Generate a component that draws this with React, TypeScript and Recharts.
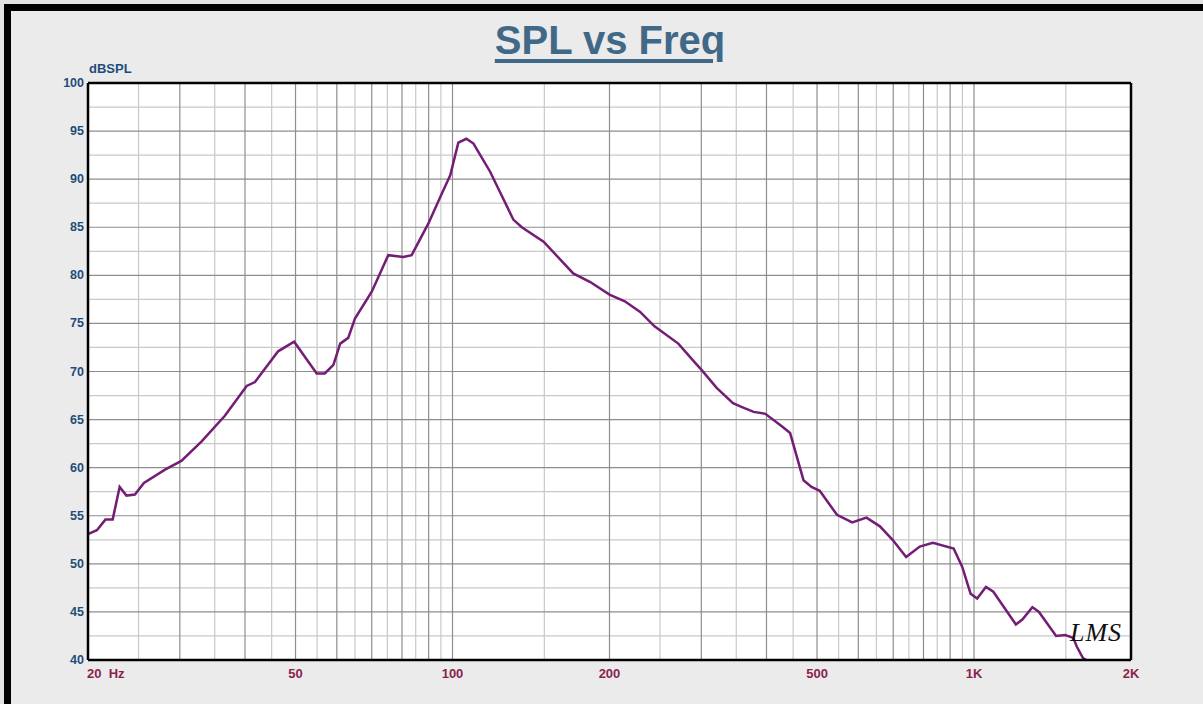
import React from 'react';
import { LineChart, Line, XAxis, YAxis, ReferenceLine, ReferenceArea } from 'recharts';

const freqHz = [
  20, 20.8, 21.6, 22.3, 23.0, 23.7, 24.6, 25.6, 28.1, 30.2, 33.0, 36.6, 40.3, 41.8, 46.3, 49.7,
  54.9, 56.9, 59.1, 60.9, 63.1, 65.0, 70.0, 72.6, 75.3, 80.5, 83.5, 89.9, 95.4, 99.0, 102.6, 106.3,
  109.7, 118, 130.8, 135.8, 149.5, 170.4, 183.7, 200, 214, 229, 244, 271, 292, 300, 321, 345, 359,
  378, 398, 428, 444, 471, 488, 506, 546, 584, 622, 660, 698, 741, 787, 834, 914, 949, 985, 1014,
  1054, 1089, 1203, 1238, 1294, 1332, 1437, 1496, 1550, 1574, 1618, 1700,
];
const splDb = [
  53.1, 53.5, 54.6, 54.6, 58.0, 57.1, 57.2, 58.4, 59.8, 60.7, 62.7, 65.4, 68.5, 68.9, 72.1, 73.1,
  69.8, 69.8, 70.7, 72.9, 73.5, 75.5, 78.3, 80.2, 82.1, 81.9, 82.1, 85.4, 88.5, 90.4, 93.8, 94.2,
  93.7, 90.8, 85.8, 85.0, 83.5, 80.2, 79.3, 78.0, 77.3, 76.2, 74.7, 72.9, 70.9, 70.2, 68.3, 66.7, 66.3,
  65.8, 65.6, 64.3, 63.6, 58.7, 58.0, 57.6, 55.1, 54.3, 54.8, 53.9, 52.5, 50.7, 51.8, 52.2, 51.6, 49.7, 46.9, 46.4,
  47.6, 47.1, 43.7, 44.2, 45.5, 45.0, 42.5, 42.6, 42.3, 41.4, 40.2, 39.5,
];

const xTicks = [20, 50, 100, 200, 500, 1000, 2000];
const xTickLabels = ['20  Hz', '50', '100', '200', '500', '1K', '2K'];
const yTicks = [40, 45, 50, 55, 60, 65, 70, 75, 80, 85, 90, 95, 100];

const gridFreqMajor = [30, 40, 50, 60, 70, 80, 90, 100, 200, 300, 400, 500, 600, 700, 800, 900, 1000];
const gridFreqMinor = [25, 35, 45, 55, 65, 75, 85, 95, 150, 250, 350, 450, 550, 650, 750, 850, 950, 1500];
const gridDbMajor = [45, 50, 55, 60, 65, 70, 75, 80, 85, 90, 95];
const gridDbMinor = [42.5, 47.5, 52.5, 57.5, 62.5, 67.5, 72.5, 77.5, 82.5, 87.5, 92.5, 97.5];

const data = freqHz.map((f, i) => ({ f, spl: splDb[i] }));

const FONT = 'Arial, "Liberation Sans", sans-serif';

const XTick = (props: any) => {
  const { x, y, payload } = props;
  const idx = xTicks.indexOf(payload.value);
  const first = idx === 0;
  return (
    <text x={first ? x - 1 : x} y={y + 18} textAnchor={first ? 'start' : 'middle'}
      fill="#8a1f4e" fontSize={13} fontWeight="bold" fontFamily={FONT} style={{ whiteSpace: 'pre' }}>
      {xTickLabels[idx]}
    </text>
  );
};

const YTick = (props: any) => {
  const { x, y, payload } = props;
  return (
    <text x={x - 4} y={y + 4} textAnchor="end" fill="#1f4d7a" fontSize={12.5}
      fontWeight="bold" fontFamily={FONT}>
      {payload.value}
    </text>
  );
};

export default function App() {
  return (
    <div style={{ position: 'absolute', left: 0, top: 0, width: 1203, height: 704, background: '#e2e2e2', overflow: 'hidden', fontFamily: FONT }}>
      <div style={{ position: 'absolute', left: 4, top: 4, width: 1300, height: 800, background: '#ebebeb', borderLeft: '7px solid #000', borderTop: '7px solid #000' }} />

      <div style={{ position: 'absolute', left: 0, top: 0 }}>
        <LineChart width={1203} height={704} data={data} margin={{ top: 83, right: 72, bottom: 14, left: 48 }}>
          <ReferenceArea x1={20} x2={2000} y1={40} y2={100} fill="#ffffff" fillOpacity={1} stroke="none" />
          {gridDbMinor.map((v) => (
            <ReferenceLine key={'hm' + v} y={v} stroke="#c9c9c9" strokeWidth={1.2} />
          ))}
          {gridFreqMinor.map((v) => (
            <ReferenceLine key={'vm' + v} x={v} stroke="#c9c9c9" strokeWidth={1.2} />
          ))}
          {gridDbMajor.map((v) => (
            <ReferenceLine key={'hM' + v} y={v} stroke="#8e8e8e" strokeWidth={1.2} />
          ))}
          {gridFreqMajor.map((v) => (
            <ReferenceLine key={'vM' + v} x={v} stroke="#8e8e8e" strokeWidth={1.2} />
          ))}
          <XAxis dataKey="f" type="number" scale="log" domain={[20, 2000]} ticks={xTicks}
            allowDataOverflow height={30} tickLine={false} tickSize={0} tickMargin={0}
            axisLine={{ stroke: '#000', strokeWidth: 2.5 }} tick={<XTick />} interval={0} />
          <YAxis type="number" domain={[40, 100]} ticks={yTicks} allowDataOverflow width={40}
            tickLine={false} tickSize={0} tickMargin={0}
            axisLine={{ stroke: '#000', strokeWidth: 2.5 }} tick={<YTick />} interval={0} />
          <ReferenceLine y={100} stroke="#000" strokeWidth={2.5} />
          <ReferenceLine x={2000} stroke="#000" strokeWidth={2.5} />
          <Line type="linear" dataKey="spl" stroke="#741d74" strokeWidth={2.5} dot={false}
            isAnimationActive={false} />
        </LineChart>
      </div>

      <div style={{ position: 'absolute', left: 89, top: 61, fontSize: 13, fontWeight: 'bold', color: '#1f4d7a' }}>
        dBSPL
      </div>
      <div style={{ position: 'absolute', left: 0, width: 1220, top: 18, textAlign: 'center', fontSize: 40, fontWeight: 'bold', color: '#3f6987', textDecoration: 'underline', textDecorationThickness: 4, textUnderlineOffset: 5 }}>
        SPL vs Freq
      </div>
      <div style={{ position: 'absolute', left: 1070, top: 618, fontSize: 26, fontStyle: 'italic', fontFamily: '"Liberation Serif", serif', color: '#111', letterSpacing: 1 }}>
        LMS
      </div>
    </div>
  );
}
